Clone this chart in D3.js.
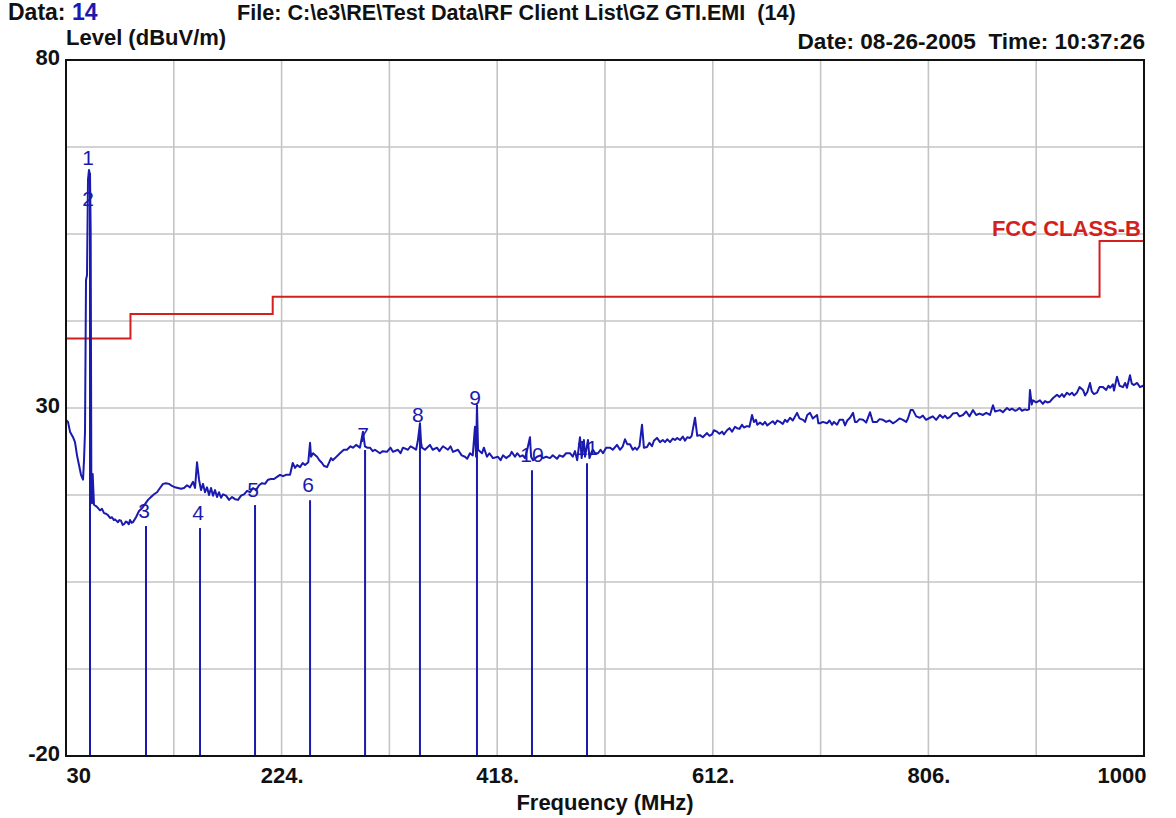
<!DOCTYPE html>
<html>
<head>
<meta charset="utf-8">
<script src="https://cdn.jsdelivr.net/npm/d3@7"></script>
<style>
  html, body { margin: 0; padding: 0; background: #fff; }
  text { font-family: "Liberation Sans", Arial, sans-serif; white-space: pre; }
</style>
</head>
<body>
<div id="chart"></div>
<script>
// header info
const dataNo = "14";
const fileName = "File: C:\\e3\\RE\\Test Data\\RF Client List\\GZ GTI.EMI  (14)";
const dateTime = "Date: 08-26-2005  Time: 10:37:26";
const yTitle = "Level (dBuV/m)";
const xTitle = "Frequency (MHz)";
const limitName = "FCC CLASS-B";

// axes
const xTicks = [30, 224, 418, 612, 806, 1000];
const yTicks = [80, 30, -20];

// FCC class B limit (step line)
const limitFreq = [30, 88, 88, 216, 216, 960, 960, 1000];
const limitLevel = [40, 40, 43.5, 43.5, 46, 46, 54, 54];

// markers
const markerNo = ["1", "2", "3", "4", "5", "6", "7", "8", "9", "10", "11"];
const markerFreq = [51.6, 51.6, 102.0, 150.6, 200.1, 249.6, 299.1, 348.5, 399.8, 449.3, 498.8];
const markerLevel = [64.9, 59.0, 14.2, 13.9, 17.2, 17.9, 25.1, 28.0, 30.4, 22.2, 23.2];

const trace = [
  [30.0,28.3],[31.8,28.0],[33.6,26.6],[36.3,25.8],[38.1,25.1],[39.9,23.2],[41.7,21.8],[43.5,20.4],
  [45.3,19.7],[46.2,22.5],[47.1,26.6],[48.0,48.4],[48.9,49.1],[49.8,62.8],[50.7,64.2],[51.6,63.5],
  [52.2,55.6],[52.8,19.7],[53.4,16.3],[54.0,20.5],[55.2,16.1],[57.9,15.8],[60.6,15.3],[62.4,15.5],
  [64.2,14.9],[66.0,14.8],[67.8,14.6],[69.6,14.2],[71.4,14.3],[73.0,13.9],[74.1,14.0],[76.8,13.6],
  [78.0,13.9],[79.5,13.8],[81.0,13.2],[82.2,13.3],[84.0,13.7],[84.9,13.6],[86.5,13.3],[87.6,13.9],
  [89.0,13.5],[90.3,13.6],[93.0,14.3],[95.7,15.2],[98.4,15.6],[101.1,16.2],[103.8,16.8],[106.5,17.2],
  [109.2,17.6],[111.9,17.9],[114.6,18.5],[117.3,19.1],[120.0,19.2],[122.7,19.1],[125.4,18.8],[128.1,18.6],
  [130.8,18.5],[133.5,18.4],[136.2,18.5],[138.9,18.9],[141.6,18.6],[144.3,19.4],[146.1,18.5],[147.9,22.2],
  [149.7,19.7],[151.5,18.2],[153.3,19.1],[155.1,17.9],[156.9,18.6],[158.7,17.5],[160.5,18.5],[162.3,17.4],
  [164.1,18.2],[165.9,17.2],[167.7,17.9],[169.5,17.1],[171.3,17.6],[174.0,17.4],[176.7,16.8],[179.4,17.2],
  [182.1,16.9],[184.8,16.8],[187.5,17.4],[190.2,17.6],[192.9,18.1],[195.6,17.9],[198.3,18.5],[201.0,18.2],
  [203.7,18.9],[206.4,19.2],[209.1,19.1],[211.8,19.7],[214.5,19.8],[217.2,19.8],[219.9,20.1],[222.6,20.4],
  [225.3,20.2],[228.0,20.4],[231.6,20.4],[234.0,22.1],[236.1,21.4],[238.0,21.8],[240.6,21.5],[243.0,22.1],
  [245.1,21.8],[248.0,22.2],[249.6,25.0],[250.5,23.0],[252.3,23.5],[255.9,23.0],[258.0,22.5],[260.4,22.1],
  [262.0,21.7],[264.9,21.5],[268.5,22.8],[270.0,22.5],[272.1,22.8],[276.5,23.5],[280.0,24.0],[282.8,24.0],
  [286.0,24.5],[288.2,24.3],[291.0,24.7],[294.5,24.3],[297.2,26.6],[299.0,24.5],[301.0,24.3],[303.5,24.3],
  [306.0,23.8],[308.0,24.0],[312.5,23.5],[315.0,23.8],[318.8,23.7],[322.0,24.3],[324.2,23.7],[328.7,24.0],
  [331.0,23.5],[333.2,24.3],[337.7,24.0],[340.0,24.5],[342.2,24.3],[345.0,24.0],[346.7,25.4],[348.5,27.8],
  [349.5,25.0],[350.3,24.3],[353.0,24.0],[357.5,24.7],[360.0,24.0],[363.8,24.3],[366.0,23.8],[369.2,24.5],
  [373.7,24.0],[376.0,24.5],[378.2,23.7],[382.7,24.0],[386.0,23.2],[389.0,23.0],[391.0,22.7],[393.5,23.5],
  [396.0,23.2],[398.0,27.3],[399.0,23.0],[399.8,30.4],[400.8,24.0],[404.3,23.5],[406.0,24.3],[408.8,23.0],
  [411.0,23.5],[414.2,22.8],[418.7,23.0],[421.0,22.5],[423.2,23.2],[426.0,22.8],[429.5,23.2],[431.0,23.7],
  [434.0,23.0],[436.0,23.5],[438.5,23.0],[441.0,23.2],[443.0,22.8],[445.0,24.0],[447.5,25.8],[448.5,23.0],
  [450.2,22.5],[453.8,23.0],[457.0,23.2],[459.2,22.8],[462.0,23.0],[465.5,22.8],[468.0,23.2],[471.8,22.7],
  [474.0,23.2],[477.2,23.0],[480.0,23.5],[483.5,23.5],[486.0,23.0],[488.0,23.8],[490.0,22.5],[492.5,25.8],
  [494.0,22.8],[496.0,25.4],[497.0,23.0],[499.7,25.4],[501.0,22.8],[503.0,23.7],[504.2,24.0],[506.0,23.5],
  [508.7,23.5],[511.0,24.0],[513.2,23.5],[516.0,24.3],[519.5,24.3],[522.0,24.0],[525.8,24.7],[528.5,24.0],
  [531.0,24.5],[533.0,25.5],[535.0,24.8],[537.5,24.8],[540.0,24.0],[542.0,24.3],[543.8,24.0],[546.0,24.5],
  [548.3,27.6],[550.0,24.3],[552.8,24.4],[555.0,25.0],[557.3,24.5],[559.0,25.3],[561.8,25.7],[564.5,25.1],
  [567.0,25.4],[569.0,25.1],[571.0,25.5],[573.5,25.1],[576.0,25.6],[578.0,25.4],[580.0,25.7],[582.5,25.4],
  [585.0,25.9],[587.0,25.3],[589.0,25.8],[591.5,25.7],[593.0,26.0],[596.0,28.6],[598.0,26.0],[600.5,26.1],
  [603.0,25.8],[606.8,26.4],[609.0,26.0],[611.3,26.2],[613.0,26.8],[615.8,26.6],[618.0,26.3],[620.3,26.6],
  [622.0,26.2],[624.8,26.8],[627.0,27.1],[629.3,26.6],[632.0,27.3],[633.8,27.1],[636.0,27.0],[638.3,27.6],
  [640.0,27.2],[642.8,27.4],[645.0,27.3],[647.3,29.0],[649.0,28.0],[650.9,28.3],[652.0,27.6],[654.5,27.9],
  [657.0,27.6],[659.0,28.0],[661.0,27.5],[663.5,27.8],[666.0,28.1],[668.0,27.7],[670.0,28.2],[672.5,28.0],
  [675.0,27.7],[677.0,28.3],[679.0,28.0],[681.5,28.6],[684.0,28.2],[687.8,29.3],[690.0,28.5],[693.2,28.3],
  [695.0,28.0],[697.0,29.0],[699.5,29.3],[702.0,28.5],[705.8,29.0],[707.0,27.8],[708.5,27.8],[711.0,28.0],
  [714.8,27.8],[717.0,28.2],[719.3,27.6],[721.0,28.0],[723.8,27.6],[726.0,28.3],[729.2,28.3],[731.0,27.5],
  [733.0,28.2],[735.5,28.6],[738.2,29.3],[740.0,28.0],[741.7,28.0],[744.0,28.4],[747.2,28.3],[750.0,27.9],
  [753.5,29.4],[756.0,28.0],[759.8,28.0],[762.0,28.4],[765.1,28.3],[768.0,28.0],[771.0,28.2],[774.1,27.8],
  [777.0,28.1],[780.0,28.5],[783.1,28.3],[786.0,28.0],[787.6,28.5],[790.0,29.7],[792.1,29.7],[795.0,28.8],
  [798.4,28.6],[801.0,28.9],[803.9,28.3],[807.4,28.6],[810.0,28.8],[813.0,28.3],[816.4,29.0],[819.0,28.6],
  [820.9,28.9],[823.0,28.5],[825.4,28.7],[828.0,29.2],[831.7,29.3],[834.0,28.8],[837.1,29.0],[840.0,29.5],
  [843.0,28.8],[846.1,29.7],[849.0,29.0],[852.0,29.2],[855.1,29.0],[858.0,29.3],[861.4,29.0],[864.1,30.4],
  [866.0,29.5],[870.4,29.7],[873.0,29.4],[876.7,30.0],[879.0,29.7],[881.2,29.9],[884.0,29.6],[885.7,29.7],
  [888.0,30.0],[890.2,29.6],[893.0,29.8],[894.7,29.7],[896.5,29.8],[897.4,32.6],[899.0,30.5],[900.1,31.1],
  [903.0,30.8],[906.4,31.1],[909.0,30.6],[910.9,31.0],[913.0,30.8],[915.4,30.9],[918.0,31.4],[921.7,31.9],
  [924.0,31.6],[926.2,32.0],[928.0,31.6],[930.7,32.2],[933.0,31.9],[935.2,32.2],[937.0,31.8],[939.7,32.2],
  [942.0,33.0],[945.1,32.6],[947.0,31.8],[949.0,32.3],[951.4,33.6],[953.0,32.4],[955.0,32.0],[957.7,32.2],
  [960.0,33.0],[963.1,33.0],[966.0,32.6],[968.0,33.2],[969.5,32.9],[972.0,33.4],[973.0,32.5],[975.7,34.5],
  [978.0,33.2],[981.1,33.0],[983.0,33.6],[984.7,32.9],[987.4,34.7],[989.0,33.5],[991.0,33.3],[993.7,33.6],
  [996.4,33.0],[999.1,33.2],[1000,33.0]
];

const width = 1176, height = 818;
const margin = {top: 60, right: 32, bottom: 62, left: 66};
const blue = "#1a1aae", red = "#d41f1f";

const svg = d3.select("#chart").append("svg")
    .attr("width", width)
    .attr("height", height)
    .style("background", "#fff");

const x = d3.scaleLinear([30, 1000], [margin.left, width - margin.right]);
const y = d3.scaleLinear([-20, 80], [height - margin.bottom, margin.top]);

// grid
svg.append("g")
    .attr("stroke", "#c4c4c4")
    .attr("stroke-width", 1.6)
  .selectAll("line.v")
  .data(d3.range(30, 1001, 97))
  .join("line")
    .attr("x1", d => x(d)).attr("x2", d => x(d))
    .attr("y1", y(80)).attr("y2", y(-20));

svg.append("g")
    .attr("stroke", "#c4c4c4")
    .attr("stroke-width", 1.6)
  .selectAll("line.h")
  .data(d3.range(-20, 80.1, 12.5))
  .join("line")
    .attr("x1", x(30)).attr("x2", x(1000))
    .attr("y1", d => y(d)).attr("y2", d => y(d));

// limit line
const limit = d3.zip(limitFreq, limitLevel);
svg.append("path")
    .datum(limit)
    .attr("fill", "none")
    .attr("stroke", red)
    .attr("stroke-width", 2)
    .attr("d", d3.line(d => x(d[0]), d => y(d[1])));

svg.append("text")
    .attr("x", x(1000) - 3)
    .attr("y", y(limitLevel[limitLevel.length - 1]) - 5)
    .attr("text-anchor", "end")
    .attr("fill", red)
    .attr("font-size", 22)
    .attr("font-weight", "bold")
    .text(limitName);

// marker lines
const markers = markerNo.map((n, i) => ({n, f: markerFreq[i], v: markerLevel[i]}));
svg.append("g")
    .attr("stroke", blue)
    .attr("stroke-width", 2)
  .selectAll("line")
  .data(markers)
  .join("line")
    .attr("x1", d => x(d.f)).attr("x2", d => x(d.f))
    .attr("y1", y(-20))
    .attr("y2", d => y(d.v) + 8);

// trace
svg.append("path")
    .datum(trace)
    .attr("fill", "none")
    .attr("stroke", blue)
    .attr("stroke-width", 2)
    .attr("stroke-linejoin", "round")
    .attr("d", d3.line(d => x(d[0]), d => y(d[1])));

svg.append("g")
    .attr("fill", blue)
    .attr("font-size", 21)
    .attr("text-anchor", "middle")
  .selectAll("text")
  .data(markers)
  .join("text")
    .attr("x", d => x(d.f) - (d.n.length > 1 ? 0 : 2))
    .attr("y", d => y(d.v))
    .text(d => d.n);

// frame
svg.append("rect")
    .attr("x", x(30)).attr("y", y(80))
    .attr("width", x(1000) - x(30))
    .attr("height", y(-20) - y(80))
    .attr("fill", "none")
    .attr("stroke", "#111")
    .attr("stroke-width", 2);

// axes
const xAxis = svg.append("g")
    .attr("transform", `translate(0,${y(-20)})`)
    .call(d3.axisBottom(x).tickValues(xTicks).tickSize(0).tickPadding(11)
      .tickFormat(d => (d === 30 || d === 1000) ? String(d) : d + "."));
xAxis.select(".domain").remove();
xAxis.selectAll("text")
    .attr("font-family", "Liberation Sans, Arial, sans-serif")
    .attr("font-size", 22)
    .attr("font-weight", "bold")
    .attr("fill", "#111")
    .attr("text-anchor", d => d === 30 ? "start" : d === 1000 ? "end" : "middle")
    .attr("x", d => d === 1000 ? 2 : 0);

const yAxis = svg.append("g")
    .attr("transform", `translate(${x(30)},0)`)
    .call(d3.axisLeft(y).tickValues(yTicks).tickSize(0).tickPadding(6)
      .tickFormat(d => String(d)));
yAxis.select(".domain").remove();
yAxis.selectAll("text")
    .attr("font-family", "Liberation Sans, Arial, sans-serif")
    .attr("font-size", 22)
    .attr("font-weight", "bold")
    .attr("fill", "#111")
    .attr("dy", "0.22em");

// titles and header
const bold = (sel, size) => sel.attr("font-weight", "bold").attr("fill", "#111").attr("font-size", size);

const dataLabel = svg.append("text").attr("x", 8).attr("y", 20).call(bold, 23);
dataLabel.append("tspan").text("Data: ");
dataLabel.append("tspan").attr("fill", blue).text(dataNo);

svg.append("text").attr("x", 237).attr("y", 20).call(bold, 21.6).text(fileName);

svg.append("text").attr("x", 66).attr("y", 45).call(bold, 22).text(yTitle);

svg.append("text").attr("x", 1145).attr("y", 49).attr("text-anchor", "end")
    .call(bold, 22.6).text(dateTime);

svg.append("text")
    .attr("x", (x(30) + x(1000)) / 2)
    .attr("y", 810)
    .attr("text-anchor", "middle")
    .call(bold, 22)
    .text(xTitle);
</script>
</body>
</html>
